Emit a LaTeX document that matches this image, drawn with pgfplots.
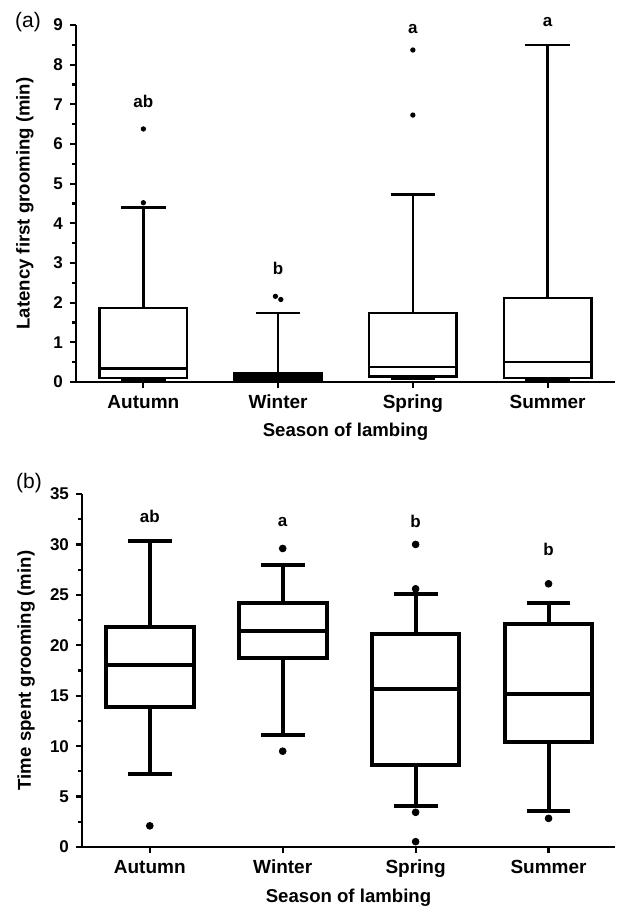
\documentclass[border=0pt]{standalone}
\usepackage{fontspec}
\setmainfont{Liberation Sans}
\usepackage{pgfplots}
\pgfplotsset{compat=1.18}
\usepgfplotslibrary{statistics}
\begin{document}
\begin{tikzpicture}
\path[use as bounding box] (-38pt,-264pt) rectangle (270.5pt,191pt);
\pgfplotsset{
  myaxis/.style={
    scale only axis,
    clip=false,
    axis x line*=bottom,
    axis y line*=left,
    axis line style={-, line width=1.2pt},
    xmin=0.5, xmax=4.5,
    xtick={1,2,3,4},
    xticklabels={Autumn,Winter,Spring,Summer},
    tick align=outside,
    major tick length=3pt,
    minor tick length=2pt,
    every tick/.style={black, line width=1.1pt},
    x tick label style={font=\bfseries\fontsize{9.5}{11}\selectfont},
    y tick label style={font=\bfseries\fontsize{8.5}{10}\selectfont},
    /pgf/number format/assume math mode=true,
    label style={font=\bfseries\fontsize{9.3}{11}\selectfont},
    xlabel={Season of lambing},
    boxplot/draw direction=y,
  },
}
% ---------------- panel (a) ----------------
\begin{axis}[myaxis,
  at={(0pt,0pt)}, anchor=south west,
  width=269.5pt, height=178.5pt,
  ymin=0, ymax=9, ytick={0,1,...,9}, minor ytick={0.5,1.5,...,8.5},
  xlabel style={at={(axis description cs:0.5,-0.14)}, anchor=center},
  ylabel={Latency first grooming (min)},
  ylabel style={at={(axis description cs:-0.095,0.5)}, anchor=center},
  boxplot/box extend=0.65, boxplot/whisker extend=0.33,
]
\addplot[black, line width=1.2pt, fill=white, boxplot prepared={lower whisker=0.05, lower quartile=0.1, median=0.34, upper quartile=1.87, upper whisker=4.40, draw position=1}] coordinates {};
\addplot[black, line width=1.2pt, fill=black, boxplot prepared={lower whisker=0.03, lower quartile=0.05, median=0.15, upper quartile=0.22, upper whisker=1.74, draw position=2}] coordinates {};
\addplot[black, line width=1.2pt, fill=white, boxplot prepared={lower whisker=0.08, lower quartile=0.14, median=0.38, upper quartile=1.74, upper whisker=4.73, draw position=3}] coordinates {};
\addplot[black, line width=1.2pt, fill=white, boxplot prepared={lower whisker=0.05, lower quartile=0.1, median=0.5, upper quartile=2.12, upper whisker=8.50, draw position=4}] coordinates {};
\addplot[only marks, mark=*, mark size=1.1pt, black] coordinates {(1,6.38) (1,4.52) (1.98,2.16) (2.02,2.08) (3,8.37) (3,6.73)};
\node[font=\bfseries\fontsize{8.5}{10}\selectfont] at (axis cs:1,7.07) {ab};
\node[font=\bfseries\fontsize{8.5}{10}\selectfont] at (axis cs:2,2.87) {b};
\node[font=\bfseries\fontsize{8.5}{10}\selectfont] at (axis cs:3,8.91) {a};
\node[font=\bfseries\fontsize{8.5}{10}\selectfont] at (axis cs:4,9.07) {a};
\end{axis}
% ---------------- panel (b) ----------------
\begin{axis}[myaxis,
  at={(3pt,-232.5pt)}, anchor=south west,
  width=266.5pt, height=176.5pt,
  xmin=0.49,
  ymin=0, ymax=35, ytick={0,5,...,35}, minor ytick={2.5,7.5,...,32.5},
  xlabel style={at={(axis description cs:0.5,-0.144)}, anchor=center},
  ylabel={Time spent grooming (min)},
  ylabel style={at={(axis description cs:-0.105,0.5)}, anchor=center},
  boxplot/box extend=0.66, boxplot/whisker extend=0.33,
]
\addplot[black, line width=2pt, fill=white, boxplot prepared={lower whisker=7.27, lower quartile=13.85, median=18.0, upper quartile=21.8, upper whisker=30.37, draw position=1}] coordinates {};
\addplot[black, line width=2pt, fill=white, boxplot prepared={lower whisker=11.1, lower quartile=18.7, median=21.45, upper quartile=24.2, upper whisker=28.0, draw position=2}] coordinates {};
\addplot[black, line width=2pt, fill=white, boxplot prepared={lower whisker=4.03, lower quartile=8.15, median=15.7, upper quartile=21.1, upper whisker=25.1, draw position=3}] coordinates {};
\addplot[black, line width=2pt, fill=white, boxplot prepared={lower whisker=3.57, lower quartile=10.4, median=15.17, upper quartile=22.1, upper whisker=24.2, draw position=4}] coordinates {};
\addplot[only marks, mark=*, mark size=1.7pt, black] coordinates {(1,2.1) (2,29.6) (2,9.5) (3,30.0) (3,25.6) (3,3.44) (3,0.53) (4,26.1) (4,2.84)};
\node[font=\bfseries\fontsize{8.5}{10}\selectfont] at (axis cs:1,32.8) {ab};
\node[font=\bfseries\fontsize{8.5}{10}\selectfont] at (axis cs:2,32.2) {a};
\node[font=\bfseries\fontsize{8.5}{10}\selectfont] at (axis cs:3,32.3) {b};
\node[font=\bfseries\fontsize{8.5}{10}\selectfont] at (axis cs:4,29.5) {b};
\end{axis}
\node[font=\fontsize{10.5}{12}\selectfont] at (-24pt,180pt) {(a)};
\node[font=\fontsize{10.5}{12}\selectfont] at (-23.5pt,-50.5pt) {(b)};
\end{tikzpicture}
\end{document}
